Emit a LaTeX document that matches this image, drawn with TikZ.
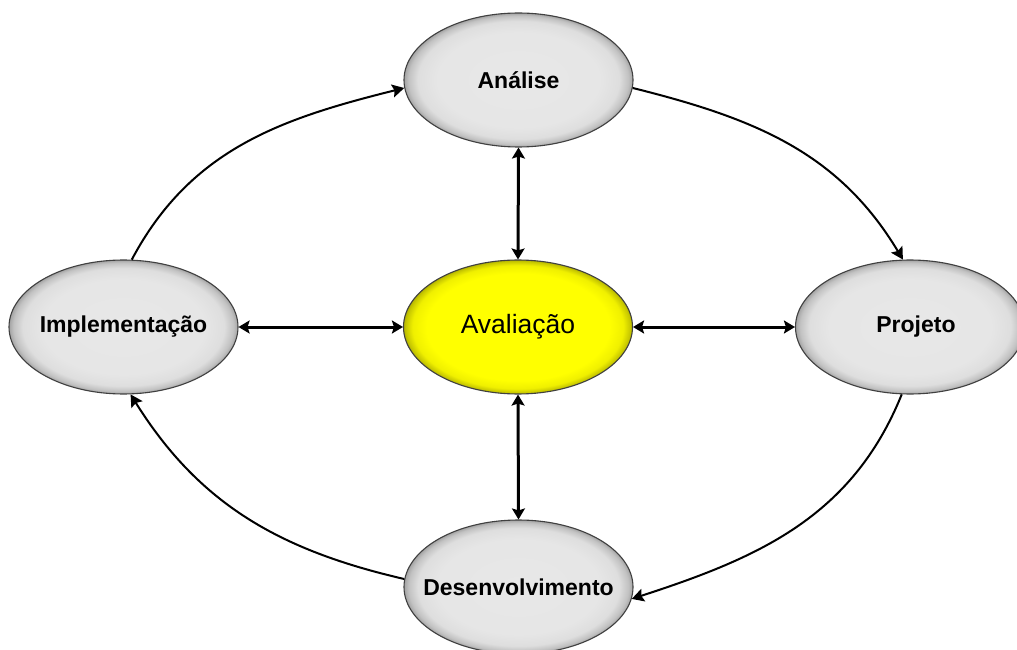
\documentclass[tikz,border=0pt]{standalone}
\usepackage{fontspec}
\setmainfont{Liberation Sans}
\usetikzlibrary{arrows.meta,shapes.geometric}

% soft rim shading for the phase bubbles
\pgfdeclareradialshading{greyrim}{\pgfpoint{0bp}{0bp}}{%
  color(0bp)=(black!9); color(18bp)=(black!10); color(22bp)=(black!13);
  color(24bp)=(black!24); color(25bp)=(black!36); color(50bp)=(black!36)}
\pgfdeclareradialshading{yellowrim}{\pgfpoint{0bp}{0bp}}{%
  color(0bp)=(yellow); color(20bp)=(yellow); color(23bp)=(yellow!94!black);
  color(24.5bp)=(yellow!78!black); color(25bp)=(yellow!70!black); color(50bp)=(yellow!70!black)}

\tikzset{
  phase/.style={ellipse, draw=black!75, line width=1.1pt, shading=greyrim,
    minimum width=229pt, minimum height=134pt, inner sep=0pt, inner xsep=-40pt,
    font=\fontsize{23}{26}\selectfont\bfseries},
  hub/.style={phase, shading=yellowrim,
    font=\fontsize{26.5}{30}\selectfont\mdseries},
  tip/.style={-{Stealth[length=12pt,width=13pt,inset=2pt]}},
  link/.style={{Stealth[length=11pt,width=13pt,inset=2pt]}-{Stealth[length=11pt,width=13pt,inset=2pt]},
    line width=3pt},
  cycle/.style={tip, line width=2pt}
}

\begin{document}
\begin{tikzpicture}[x=1pt,y=1pt]
  \useasboundingbox (0,0) rectangle (1017,649);
  \clip (0,0) rectangle (1017,649);
  \fill[white] (0,0) rectangle (1017,649);

  % phases of the cycle
  \node[phase] (ana)  at (518.5,569) {Análise};
  \node[hub]   (aval) at (518,322)   {Avaliação};
  \node[phase] (des)  at (518.5,62)  {Desenvolvimento};
  \node[phase] (impl) at (123.5,322) {Implementação};
  \node[phase] (proj) at (910,322)   {\hspace{12pt}Projeto};

  % links to the evaluation hub
  \draw[link] (ana.south)  -- (aval.north);
  \draw[link] (aval.south) -- (des.north);
  \draw[link] (impl.east)  -- (aval.west);
  \draw[link] (aval.east)  -- (proj.west);

  % outer cycle
  \draw[cycle] (ana.-4)   to[out=-14, in=121]  (proj.96);
  \draw[cycle] (proj.-97) to[out=-112, in=18]  (des.-6);
  \draw[cycle] (des.176)  to[out=167, in=-58]  (impl.-84);
  \draw[cycle] (impl.83)  to[out=62, in=-166]  (ana.184);
\end{tikzpicture}
\end{document}
